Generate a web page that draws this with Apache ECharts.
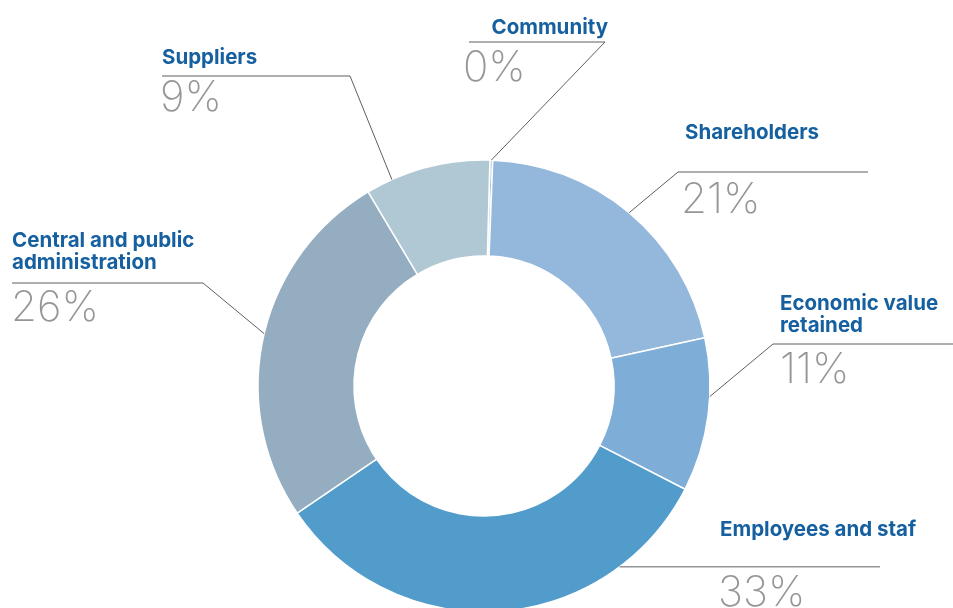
<!DOCTYPE html>
<html>
<head>
<meta charset="utf-8">
<title>Distribution of economic value</title>
<script src="https://cdn.jsdelivr.net/npm/echarts@6/dist/echarts.min.js"></script>
<style>
  html, body { margin: 0; padding: 0; background: #ffffff; }
  #chart { width: 953px; height: 608px; }
</style>
</head>
<body>
<div id="chart"></div>
<script>
// Stakeholder groups, in clockwise order starting at the top of the ring
const categories = [
  'Community',
  'Shareholders',
  'Economic value retained',
  'Employees and staf',
  'Central and public administration',
  'Suppliers'
];
// Label text for each group (line breaks where the name wraps)
const labelNames = [
  'Community',
  'Shareholders',
  'Economic value\nretained',
  'Employees and staf',
  'Central and public\nadministration',
  'Suppliers'
];
// Share of distributed value, in percent
const shares = [0.2, 21, 11, 33, 26, 9];
const sliceColors = ['#b0c8d4', '#93b8dc', '#7eadd7', '#529ccc', '#95adc0', '#b0c8d4'];

// Ring geometry
const CX = 484, CY = 386, R_IN = 130, R_OUT = 226;
const START_ANGLE = 88.5; // degrees, ECharts convention (90 = 12 o'clock)

// Callout layout: where the leader leaves the slice (fraction of the slice's sweep),
// the elbow, the far end of the rule, and where name / percent sit.
const callouts = [
  { frac: 0.5,  elbow: [605, 42],  end: 469, name: [608, 28],  nameAlign: 'right', pct: [463, 68] },
  { frac: 0.5,  elbow: [678, 172], end: 868, name: [685, 133], nameAlign: 'left',  pct: [681, 200] },
  { frac: 0.38, elbow: [773, 344], end: 953, name: [780, 315], nameAlign: 'left',  pct: [780, 370] },
  { frac: 0.219, elbow: null,      end: 880, name: [720, 530], nameAlign: 'left',  pct: [718, 593] },
  { frac: 0.51, elbow: [203, 283], end: 12,  name: [12, 252],  nameAlign: 'left',  pct: [11, 308] },
  { frac: 0.21, elbow: [350, 76],  end: 162, name: [162, 58],  nameAlign: 'left',  pct: [160, 98] }
];

const total = shares.reduce((a, b) => a + b, 0);
const pctText = shares.map(v => Math.round(v / total * 100) + '%');

// Build leader lines and texts from the slice angles
const graphics = [];
let cum = 0;
shares.forEach((v, i) => {
  const a0 = (90 - START_ANGLE) + cum / total * 360;
  cum += v;
  const a1 = (90 - START_ANGLE) + cum / total * 360;
  const c = callouts[i];
  const a = (a0 + (a1 - a0) * c.frac) * Math.PI / 180;
  const p0 = [CX + R_OUT * Math.sin(a), CY - R_OUT * Math.cos(a)];
  const pts = c.elbow ? [p0, c.elbow, [c.end, c.elbow[1]]] : [p0, [c.end, p0[1]]];
  graphics.push({
    type: 'polyline',
    z: 10,
    shape: { points: pts },
    style: { stroke: '#5f5f5f', lineWidth: 1, fill: null }
  });
  graphics.push({
    type: 'text',
    z: 10,
    x: c.name[0], y: c.name[1],
    style: {
      text: labelNames[i],
      fill: '#1660a0',
      font: '700 20.5px Inter, "Open Sans", sans-serif',
      lineHeight: 21.5,
      align: c.nameAlign,
      verticalAlign: 'middle'
    }
  });
  graphics.push({
    type: 'text',
    z: 10,
    x: c.pct[0], y: c.pct[1],
    style: {
      text: pctText[i],
      fill: '#969696',
      font: '200 42px Inter, Lato, sans-serif',
      align: 'left',
      verticalAlign: 'middle'
    }
  });
});

const chart = echarts.init(document.getElementById('chart'), null, { renderer: 'canvas' });
chart.setOption({
  backgroundColor: '#ffffff',
  animation: false,
  series: [{
    type: 'pie',
    center: [CX, CY],
    radius: [R_IN, R_OUT],
    startAngle: START_ANGLE,
    clockwise: true,
    silent: true,
    label: { show: false },
    labelLine: { show: false },
    itemStyle: { borderColor: '#ffffff', borderWidth: 1.5 },
    data: categories.map((name, i) => ({
      name: name,
      value: shares[i],
      itemStyle: { color: sliceColors[i] }
    }))
  }],
  graphic: graphics
});
</script>
</body>
</html>
